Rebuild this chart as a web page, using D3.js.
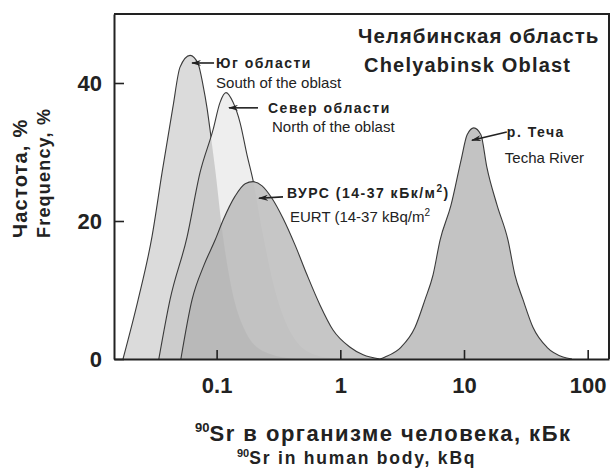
<!DOCTYPE html>
<html>
<head>
<meta charset="utf-8">
<script src="https://cdn.jsdelivr.net/npm/d3@7"></script>
<style>
body { margin: 0; background: #fff; }
text { font-family: "Liberation Sans", Arial, sans-serif; fill: #222; }
</style>
</head>
<body>
<div id="chart"></div>
<script>
// tick values
var xTicks = [0.1, 1, 10, 100];
var yTicks = [0, 20, 40];

// 90Sr body burden (kBq) vs frequency (%)
var southDose = [0.0175, 0.0232, 0.0300, 0.0362, 0.0443, 0.0506, 0.061, 0.0708, 0.0776, 0.0836, 0.0885, 0.097, 0.1127, 0.133, 0.169, 0.246, 0.43];
var southFreq = [0, 8.6, 17.7, 27.0, 36.5, 42.3, 44.0, 42.8, 39.7, 36.4, 33.2, 27.7, 17.7, 10.0, 4.2, 1.0, 0];

var northDose = [0.0341, 0.042, 0.0577, 0.0734, 0.0935, 0.1066, 0.119, 0.1358, 0.155, 0.176, 0.197, 0.233, 0.296, 0.407, 0.624, 0.95];
var northFreq = [0, 8.6, 17.7, 27.0, 33.2, 37.2, 38.6, 37.2, 34.2, 29.6, 25.9, 18.7, 10.0, 3.5, 0.6, 0];

var eurtDose = [0.0514, 0.0633, 0.079, 0.097, 0.1127, 0.141, 0.170, 0.197, 0.233, 0.280, 0.344, 0.431, 0.538, 0.686, 0.873, 1.2, 1.53, 2.09];
var eurtFreq = [0, 8.6, 13.6, 17.2, 20.1, 23.6, 25.4, 25.7, 25.1, 23.3, 20.4, 16.5, 12.2, 7.8, 4.2, 1.7, 0.6, 0];

var techaDose = [2.09, 2.30, 3.09, 4.02, 4.84, 5.62, 6.40, 7.85, 9.46, 10.6, 12.0, 13.7, 15.3, 18.5, 22.7, 25.8, 30.0, 36.1, 46.9, 63.1, 74.6];
var techaFreq = [0, 0.3, 1.7, 4.6, 8.6, 12.2, 17.2, 22.3, 28.8, 32.5, 33.5, 32.5, 27.8, 22.3, 17.2, 12.2, 8.6, 4.6, 1.7, 0.3, 0];

// annotations: label, english label, arrow tip and tail in data units
var notes = [
    { ru: "Юг области", en: "South of the oblast", tip: [0.0633, 42.9], tail: [0.0953, 42.9] },
    { ru: "Север области", en: "North of the oblast", tip: [0.126, 36.4], tail: [0.216, 36.4] },
    { ru: "ВУРС (14-37 кБк/м", en: "EURT (14-37 kBq/m", tip: [0.22, 23.3], tail: [0.344, 23.5], sup: true },
    { ru: "р. Теча", en: "Techa River", tip: [11.6, 31.7], tail: [22.2, 32.9] }
];
var noteOffsets = [
    { ru: [2, 5], en: [2, 25] },
    { ru: [10, 5], en: [14, 24] },
    { ru: [4, 1], en: [7, 25] },
    { ru: [0, 5], en: [-2, 31] }
];

var width = 610;
var height = 468;
var margin = { top: 14, right: 1, bottom: 109, left: 114 };

var series = [
    { dose: southDose, freq: southFreq, color: "#000", opacity: 0.14 },
    { dose: northDose, freq: northFreq, color: "#000", opacity: 0.065 },
    { dose: eurtDose, freq: eurtFreq, color: "#b3b3b3", opacity: 0.75 },
    { dose: techaDose, freq: techaFreq, color: "#000", opacity: 0.235 }
];

var svg = d3.select("#chart").append("svg")
    .attr("width", width)
    .attr("height", height);

var xScale = d3.scaleLog()
    .domain([0.0148, 148.7])
    .range([margin.left, width - margin.right]);

var yScale = d3.scaleLinear()
    .domain([0, 50])
    .range([height - margin.bottom, margin.top]);

function points(s) {
    return s.dose.map(function(d, i) { return [d, s.freq[i]]; });
}

var area = d3.area()
    .x(function(d) { return xScale(d[0]); })
    .y0(yScale(0))
    .y1(function(d) { return yScale(d[1]); })
    .curve(d3.curveMonotoneX);

var line = d3.line()
    .x(function(d) { return xScale(d[0]); })
    .y(function(d) { return yScale(d[1]); })
    .curve(d3.curveMonotoneX);

var defs = svg.append("defs");

// the outline of a curve is hidden where a later curve lies on top of it
series.forEach(function(s, i) {
    var m = defs.append("mask").attr("id", "hide" + i);
    m.append("rect").attr("width", width).attr("height", height).attr("fill", "white");
    series.slice(i + 1).forEach(function(t) {
        m.append("path").attr("d", area(points(t))).attr("fill", "black");
    });
});

defs.append("marker")
    .attr("id", "arrow")
    .attr("viewBox", "0 0 10 6")
    .attr("refX", 9)
    .attr("refY", 3)
    .attr("markerWidth", 10)
    .attr("markerHeight", 6)
    .attr("markerUnits", "userSpaceOnUse")
    .attr("orient", "auto")
    .append("path")
    .attr("d", "M0,0 L10,3 L0,6 L3,3 Z")
    .attr("fill", "#222");

svg.selectAll("path.fill")
    .data(series)
    .enter().append("path")
    .attr("class", "fill")
    .attr("d", function(s) { return area(points(s)); })
    .attr("fill", function(s) { return s.color; })
    .attr("fill-opacity", function(s) { return s.opacity; });

svg.selectAll("path.edge")
    .data(series)
    .enter().append("path")
    .attr("class", "edge")
    .attr("d", function(s) { return line(points(s)); })
    .attr("fill", "none")
    .attr("stroke", "#3a3a3a")
    .attr("stroke-width", 1.1)
    .attr("mask", function(s, i) { return "url(#hide" + i + ")"; });

// axes
var xAxis = svg.append("g")
    .attr("transform", "translate(0," + (height - margin.bottom) + ")")
    .call(d3.axisBottom(xScale)
        .tickValues(xTicks)
        .tickFormat(function(d) { return d; })
        .tickSizeInner(-9)
        .tickSizeOuter(0)
        .tickPadding(18));

var yAxis = svg.append("g")
    .attr("transform", "translate(" + margin.left + ",0)")
    .call(d3.axisLeft(yScale)
        .tickValues(yTicks)
        .tickSizeInner(-10)
        .tickSizeOuter(0)
        .tickPadding(12));

[xAxis, yAxis].forEach(function(g) {
    g.select(".domain").attr("stroke", "#222").attr("stroke-width", 2);
    g.selectAll(".tick line").attr("stroke", "#222").attr("stroke-width", 1.6);
    g.selectAll(".tick text")
        .style("font-size", "22px")
        .style("font-weight", "bold")
        .attr("fill", "#222");
});

// top and right sides of the frame
svg.append("path")
    .attr("d", "M" + margin.left + "," + margin.top + "H" + (width - margin.right) + "V" + (height - margin.bottom))
    .attr("fill", "none")
    .attr("stroke", "#222")
    .attr("stroke-width", 2);

// annotations
notes.forEach(function(n, i) {
    var tx = xScale(n.tail[0]), ty = yScale(n.tail[1]);
    svg.append("line")
        .attr("x1", tx).attr("y1", ty)
        .attr("x2", xScale(n.tip[0])).attr("y2", yScale(n.tip[1]))
        .attr("stroke", "#222")
        .attr("stroke-width", 1.6)
        .attr("marker-end", "url(#arrow)");

    var ru = svg.append("text")
        .attr("x", tx + noteOffsets[i].ru[0])
        .attr("y", ty + noteOffsets[i].ru[1])
        .style("font-size", "14px")
        .style("font-weight", "bold")
        .style("letter-spacing", "1.5px")
        .text(n.ru);
    var en = svg.append("text")
        .attr("x", tx + noteOffsets[i].en[0])
        .attr("y", ty + noteOffsets[i].en[1])
        .style("font-size", "15px")
        .text(n.en);
    if (n.sup) {
        ru.append("tspan").attr("dy", -6).style("font-size", "10px").text("2");
        ru.append("tspan").attr("dy", 6).text(")");
        en.append("tspan").attr("dy", -6).style("font-size", "10px").text("2");
    }
});

// region title
svg.append("text")
    .attr("x", 358).attr("y", 43)
    .style("font-size", "20.5px")
    .style("font-weight", "bold")
    .style("letter-spacing", "1px")
    .text("Челябинская область");
svg.append("text")
    .attr("x", 364).attr("y", 72)
    .style("font-size", "20px")
    .style("font-weight", "bold")
    .style("letter-spacing", "1.2px")
    .text("Chelyabinsk Oblast");

// axis titles
var xt = svg.append("text")
    .attr("x", 195).attr("y", 441)
    .style("font-weight", "bold");
xt.append("tspan").style("font-size", "13px").attr("dy", -9).text("90");
xt.append("tspan").style("font-size", "22px").style("letter-spacing", "1.5px").attr("dy", 9).text("Sr в организме человека, кБк");

var xt2 = svg.append("text")
    .attr("x", 237).attr("y", 464)
    .style("font-weight", "bold");
xt2.append("tspan").style("font-size", "11px").attr("dy", -7).text("90");
xt2.append("tspan").style("font-size", "17.5px").style("letter-spacing", "1.8px").attr("dy", 7).text("Sr in human body, kBq");

svg.append("text")
    .attr("transform", "translate(27,238) rotate(-90)")
    .style("font-size", "20px")
    .style("font-weight", "bold")
    .style("letter-spacing", "1.2px")
    .text("Частота, %");
svg.append("text")
    .attr("transform", "translate(50,238) rotate(-90)")
    .style("font-size", "18px")
    .style("font-weight", "bold")
    .style("letter-spacing", "1.2px")
    .text("Frequency, %");
</script>
</body>
</html>
